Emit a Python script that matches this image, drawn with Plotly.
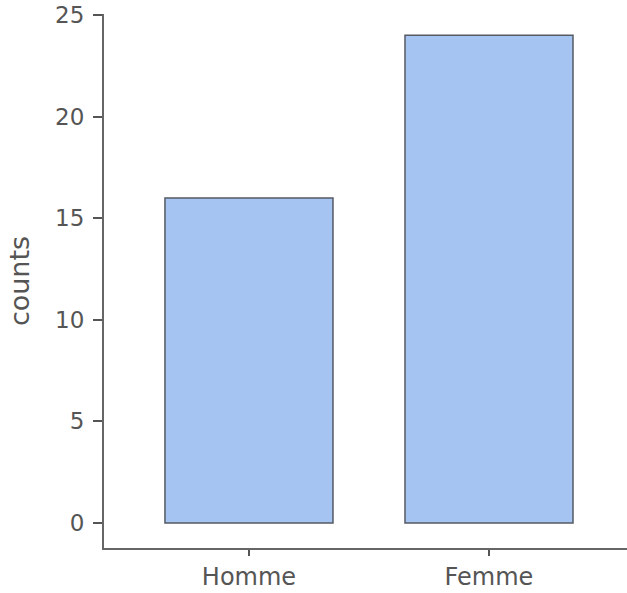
import plotly.graph_objects as go

categories = ["Homme", "Femme"]
counts = [16, 24]
y_ticks = [0, 5, 10, 15, 20, 25]

fig = go.Figure(go.Bar(
    x=categories, y=counts, width=0.7,
    marker=dict(color="#a6c4f1", line=dict(color="#555a63", width=1.5)),
))
fig.update_layout(
    width=627, height=593,
    margin=dict(l=104, r=0, t=14, b=45, autoexpand=False),
    plot_bgcolor="white", paper_bgcolor="white",
    font=dict(family="DejaVu Sans", color="#555555", size=22),
    showlegend=False,
)
fig.update_yaxes(
    range=[-1.23, 25.05], tickvals=y_ticks, showgrid=False, zeroline=False,
    showline=True, linecolor="#666666", linewidth=2, automargin=False,
    ticks="outside", ticklen=9, tickwidth=2, tickcolor="#555555",
    tickfont=dict(size=23), ticklabeloverflow="allow", ticklabelstandoff=4,
    title=dict(text="counts", font=dict(size=27, color="#555555"), standoff=18),
)
fig.update_xaxes(
    range=[-0.604, 1.575], showgrid=False, zeroline=False,
    showline=True, linecolor="#666666", linewidth=2, automargin=False,
    ticks="outside", ticklen=6, tickwidth=2, tickcolor="#555555",
    tickfont=dict(size=24), ticklabeloverflow="allow",
)
# remove the browser's default 8px body margin so the figure fills the window
fig.write_html(
    "out.html",
    config={"displayModeBar": False},
    post_script="document.body.style.margin='0';document.body.style.overflow='hidden';",
)
